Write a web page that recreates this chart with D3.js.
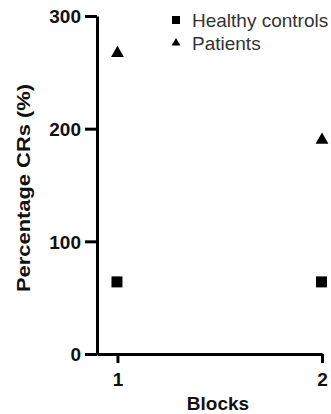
<!DOCTYPE html>
<html>
<head>
<meta charset="utf-8">
<script src="https://cdn.jsdelivr.net/npm/d3@7"></script>
<style>
  body { margin: 0; background: #fff; }
  svg { display: block; font-family: "Liberation Sans", Arial, sans-serif; }
</style>
</head>
<body>
<svg id="chart" width="331" height="414"></svg>
<script>
// data
const blocks = [1, 2];
const healthyControls = [64, 64];
const patients = [267, 190];
const yTicks = [0, 100, 200, 300];
const seriesNames = ["Healthy controls", "Patients"];

const svg = d3.select("#chart");

const x = d3.scaleLinear().domain([0.9, 2]).range([97, 322]);
const y = d3.scaleLinear().domain([0, 300]).range([354, 16]);

// y axis
const yAxis = svg.append("g")
    .attr("transform", "translate(97,0)")
    .call(d3.axisLeft(y).tickValues(yTicks).tickSize(12).tickSizeOuter(0).tickPadding(4));

// x axis
const xAxis = svg.append("g")
    .attr("transform", "translate(0,354)")
    .call(d3.axisBottom(x).tickValues(blocks).tickSize(9).tickSizeOuter(0).tickPadding(10).tickFormat(d3.format("d")));

[yAxis, xAxis].forEach(ax => {
    ax.selectAll("path, line").attr("stroke", "#000").attr("stroke-width", 3);
    ax.selectAll("text")
        .attr("fill", "#111")
        .style("font-size", "19px")
        .style("font-weight", "bold");
});
yAxis.selectAll("text").attr("dy", "0.36em");

// axis titles
svg.append("text")
    .attr("transform", "translate(30,188) rotate(-90)")
    .attr("text-anchor", "middle")
    .attr("textLength", 208)
    .attr("lengthAdjust", "spacingAndGlyphs")
    .style("font-size", "18px")
    .style("font-weight", "bold")
    .attr("fill", "#111")
    .text("Percentage CRs (%)");

svg.append("text")
    .attr("x", 218)
    .attr("y", 410)
    .attr("text-anchor", "middle")
    .style("font-size", "19px")
    .style("font-weight", "bold")
    .attr("fill", "#111")
    .text("Blocks");

// points
const square = d3.symbol().type(d3.symbolSquare).size(121);
const triangle = d3.symbol().type(d3.symbolTriangle).size(72);

svg.append("g").selectAll("path")
    .data(blocks)
    .join("path")
    .attr("d", square)
    .attr("transform", (d, i) => `translate(${x(d) - 0.5},${y(healthyControls[i])})`)
    .attr("fill", "#000");

svg.append("g").selectAll("path")
    .data(blocks)
    .join("path")
    .attr("d", triangle)
    .attr("transform", (d, i) => `translate(${x(d)},${y(patients[i])})`)
    .attr("fill", "#000");

// legend
const legend = svg.append("g").attr("transform", "translate(176,20)");
const legendSymbols = [d3.symbol().type(d3.symbolSquare).size(64), d3.symbol().type(d3.symbolTriangle).size(34)];
seriesNames.forEach((name, i) => {
    const row = legend.append("g").attr("transform", `translate(0,${i * 23})`);
    row.append("path").attr("d", legendSymbols[i]).attr("fill", "#000");
    row.append("text")
        .attr("x", 16)
        .attr("y", 7)
        .style("font-size", "19px")
        .attr("fill", "#333")
        .text(name);
});
</script>
</body>
</html>
